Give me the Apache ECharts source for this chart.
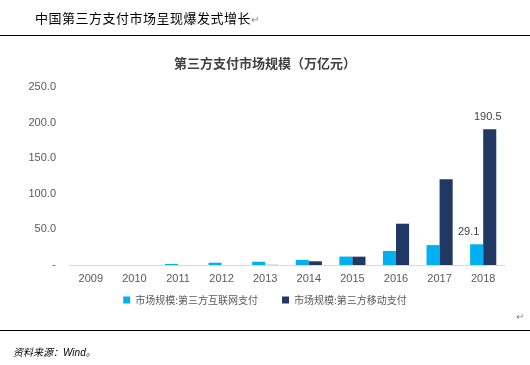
<!DOCTYPE html>
<html><head><meta charset="utf-8">
<script src="https://cdn.jsdelivr.net/npm/echarts@6/dist/echarts.min.js"></script>
<style>
html,body{margin:0;padding:0;background:#fff;width:530px;height:365px;overflow:hidden;font-family:"Noto Sans CJK SC",sans-serif;}
#chart{position:absolute;left:0;top:0;width:530px;height:365px;}
.hdr{position:absolute;left:35px;top:8px;font-size:13px;color:#000;letter-spacing:0.5px;}
.line{position:absolute;left:0;width:530px;height:1px;background:#000;}
.src{position:absolute;left:13px;top:344px;font-size:10px;font-style:italic;color:#000;}
.ret{position:absolute;font-size:10px;color:#888;}
</style></head>
<body>
<div id="chart"></div>
<div class="hdr">中国第三方支付市场呈现爆发式增长<span style="color:#888;font-size:10px">↵</span></div>
<div class="line" style="top:35px"></div>
<div class="line" style="top:330px"></div>
<div class="ret" style="left:516px;top:308px">↵</div>
<div class="src">资料来源：<span style="font-family:'Liberation Sans',Arial">Wind</span>。</div>
<script>
const years = ['2009','2010','2011','2012','2013','2014','2015','2016','2017','2018'];
const internetPay = [0.0, 0.0, 1.5, 3.2, 4.6, 7.0, 11.8, 19.7, 28.0, 29.1];
const mobilePay = [0.0, 0.0, 0.0, 0.0, 0.2, 5.2, 11.7, 58.0, 120.3, 190.5];
const seriesNames = ['市场规模:第三方互联网支付', '市场规模:第三方移动支付'];
const chartTitle = '第三方支付市场规模（万亿元）';

const chart = echarts.init(document.getElementById('chart'));
chart.setOption({
  animation: false,
  title: {
    text: chartTitle, left: 'center', top: 52,
    textStyle: {fontSize: 13, fontWeight: 'bold', color: '#404040', fontFamily: 'Noto Sans CJK SC'}
  },
  legend: {
    bottom: 55, left: 'center', itemWidth: 7, itemHeight: 7, itemGap: 24,
    icon: 'rect',
    textStyle: {fontSize: 10, color: '#595959', fontFamily: 'Noto Sans CJK SC', letterSpacing: 1.5}
  },
  grid: {left: 69, right: 25, top: 87, height: 178},
  xAxis: {
    type: 'category', data: years,
    axisLine: {lineStyle: {color: '#d9d9d9'}},
    axisTick: {length: 4, lineStyle: {color: '#d9d9d9'}},
    axisLabel: {fontSize: 11, color: '#595959', fontFamily: 'Liberation Sans', margin: 8}
  },
  yAxis: {
    type: 'value', min: 0, max: 250, interval: 50,
    axisLine: {show: false}, axisTick: {show: false}, splitLine: {show: false},
    axisLabel: {fontSize: 11, color: '#595959', fontFamily: 'Liberation Sans', margin: 13,
      formatter: v => v === 0 ? '-' : v.toFixed(1)}
  },
  series: [
    {
      name: seriesNames[0], type: 'bar', data: internetPay, barGap: '0%', barCategoryGap: '40%',
      itemStyle: {color: '#00B0F0'},
      label: {show: true, position: 'top', offset: [-8, -2], fontSize: 11, color: '#404040', fontFamily: 'Liberation Sans',
        formatter: p => p.dataIndex === years.length - 1 ? p.value.toFixed(1) : ''}
    },
    {
      name: seriesNames[1], type: 'bar', data: mobilePay,
      itemStyle: {color: '#203864'},
      label: {show: true, position: 'top', offset: [-2, -2], fontSize: 11, color: '#404040', fontFamily: 'Liberation Sans',
        formatter: p => p.dataIndex === years.length - 1 ? p.value.toFixed(1) : ''}
    }
  ]
});
</script>
</body></html>
